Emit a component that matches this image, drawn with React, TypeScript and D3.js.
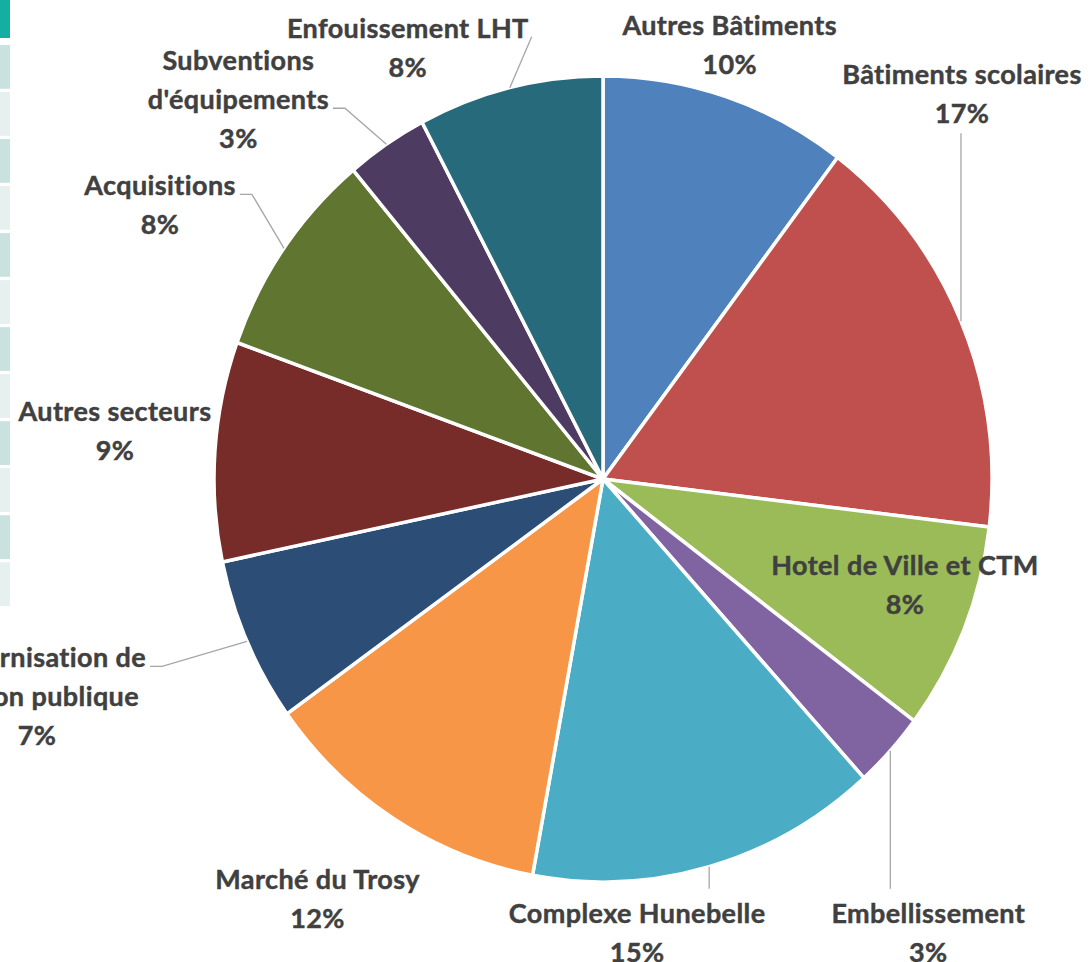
import React, { useEffect, useRef } from 'react';
import * as d3 from 'd3';

// slices, clockwise from 12 o'clock (in %)
const categories = [
  'Autres Bâtiments',
  'Bâtiments scolaires',
  'Hotel de Ville et CTM',
  'Embellissement',
  'Complexe Hunebelle',
  'Marché du Trosy',
  "Modernisation de l'action publique",
  'Autres secteurs',
  'Acquisitions',
  "Subventions d'équipements",
  'Enfouissement LHT',
];
const values = [10.3, 16.6, 8.35, 3.05, 14.6, 12.2, 6.6, 8.8, 8.4, 3.4, 7.7];
const colors = [
  '#4F81BD', '#C0504D', '#9BBB59', '#8064A2', '#4BACC6', '#F79646',
  '#2C4D75', '#772C2A', '#5F7530', '#4D3B62', '#276A7C',
];

// how each label is broken into lines
const labelLines = [
  ['Autres Bâtiments'],
  ['Bâtiments scolaires'],
  ['Hotel de Ville et CTM'],
  ['Embellissement'],
  ['Complexe Hunebelle'],
  ['Marché du Trosy'],
  ['Modernisation de', "l'action publique"],
  ['Autres secteurs'],
  ['Acquisitions'],
  ['Subventions', "d'équipements"],
  ['Enfouissement LHT'],
];

// label placement: offset from the slice's mid-angle point on the rim, plus leader type
type Leader = null | { type: 'v' } | { type: 'elbow' | 'diag'; line: number };
const labelOffsets: [number, number][] = [
  [3, -62], [1, -237], [-59, -54], [38, 172], [-72, 56], [-77, 70],
  [-210, 26], [-100, -30], [-124, -53], [-148, -74], [-102, -50],
];
const leaders: Leader[] = [
  null, { type: 'v' }, null, { type: 'v' }, { type: 'v' }, null,
  { type: 'elbow', line: 0 }, null, { type: 'elbow', line: 0 },
  { type: 'elbow', line: 1 }, { type: 'diag', line: 0 },
];

// cut-off table on the left edge
const tableRows = d3.range(12);

const W = 1091;
const H = 962;

export default function App() {
  const svgRef = useRef<SVGSVGElement>(null);

  useEffect(() => {
    if (!svgRef.current) return;
    const svg = d3.select(svgRef.current);
    svg.selectAll('*').remove();

    // table remnant
    const tbl = svg.append('g');
    tbl.append('rect').attr('x', 0).attr('y', 0).attr('width', 10).attr('height', 38).attr('fill', '#14AFA2');
    const rowY = d3.scaleBand<number>().domain(tableRows).range([45, 606]).paddingInner(0.07);
    tbl.selectAll('rect.row')
      .data(tableRows)
      .join('rect')
      .attr('class', 'row')
      .attr('x', 0)
      .attr('y', (d) => rowY(d)!)
      .attr('width', 10)
      .attr('height', rowY.bandwidth())
      .attr('fill', (d) => (d % 2 === 0 ? '#C9E2DF' : '#E5F0EF'));

    const cx = 603;
    const cy = 479;
    const r = 389;
    const sy = 1.036; // the picture is slightly stretched vertically

    const pie = d3.pie<number>().sort(null).value((d) => d);
    const arcs = pie(values);
    const arc = d3.arc<d3.PieArcDatum<number>>().innerRadius(0).outerRadius(r);

    const g = svg.append('g').attr('transform', `translate(${cx},${cy}) scale(1,${sy})`);
    g.selectAll('path')
      .data(arcs)
      .join('path')
      .attr('d', arc)
      .attr('fill', (_, i) => colors[i])
      .attr('stroke', '#fff')
      .attr('stroke-width', 3.5)
      .attr('stroke-linejoin', 'round')
      .attr('vector-effect', 'non-scaling-stroke');

    const rim = (a: number): [number, number] => [cx + r * Math.sin(a), cy - r * sy * Math.cos(a)];

    const total = d3.sum(values);
    const lineH = 39;
    const labels = svg.append('g')
      .attr('font-family', 'Lato, "Open Sans", sans-serif')
      .attr('font-weight', 700)
      .attr('font-size', 27)
      .attr('letter-spacing', 0.4)
      .attr('fill', '#404040')
      .attr('stroke', '#404040')
      .attr('stroke-width', 0.45)
      .attr('text-anchor', 'middle');
    const leaderG = svg.append('g')
      .attr('fill', 'none')
      .attr('stroke', '#A6A6A6')
      .attr('stroke-width', 1.3);

    arcs.forEach((d, i) => {
      const mid = (d.startAngle + d.endAngle) / 2;
      const [ex, ey] = rim(mid);
      const lx = ex + labelOffsets[i][0];
      const ly = ey + labelOffsets[i][1];
      const pct = `${Math.round((d.value / total) * 100)}%`;
      const lines = [...labelLines[i], pct];
      const texts = lines.map((t, k) =>
        labels.append('text').attr('x', lx).attr('y', ly + k * lineH).text(t)
      );

      const ld = leaders[i];
      if (!ld) return;
      if (ld.type === 'v') {
        const first = (texts[0].node() as SVGTextElement).getBBox();
        const last = (texts[texts.length - 1].node() as SVGTextElement).getBBox();
        const y0 = ly < ey ? last.y + last.height + 4 : first.y - 7;
        leaderG.append('path').attr('d', d3.line()([[ex, y0], [ex, ey]]));
      } else {
        const bb = (texts[ld.line].node() as SVGTextElement).getBBox();
        const right = bb.x + bb.width;
        const y = ly + ld.line * lineH - 1;
        const pts: [number, number][] =
          ld.type === 'elbow'
            ? [[right + 4, y], [right + 16, y], [ex, ey]]
            : [[right + 3, y], [ex, ey]];
        leaderG.append('path').attr('d', d3.line()(pts));
      }
    });
  }, []);

  return (
    <svg
      ref={svgRef}
      width={W}
      height={H}
      style={{ position: 'absolute', left: 0, top: 0, background: '#fff' }}
    />
  );
}
